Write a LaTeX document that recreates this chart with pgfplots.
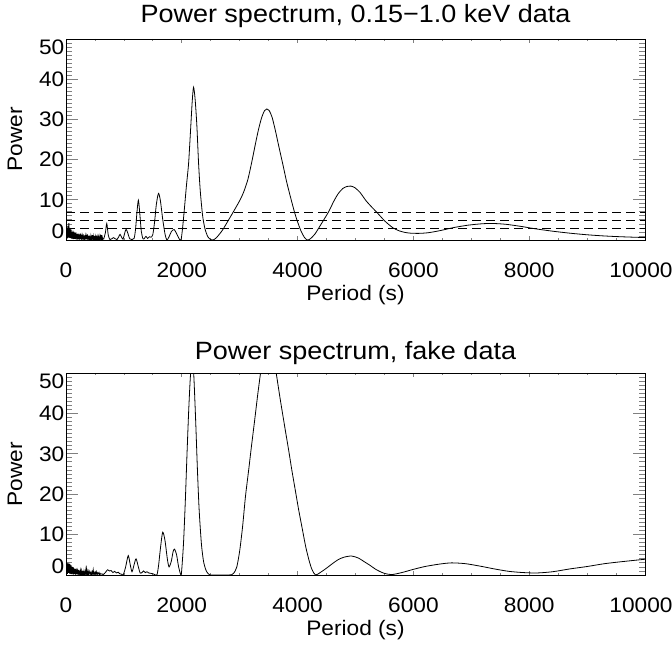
\documentclass[border=0pt]{standalone}
\usepackage{fontspec}
\setmainfont{Liberation Sans}[FakeStretch=1.08]
\usepackage{pgfplots}
\pgfplotsset{compat=1.18}
\pgfplotsset{
  idlaxis/.style={
    scale only axis, width=579pt,
    xmin=0, xmax=10000, ymin=0, ymax=50,
    axis line style={line width=0.9pt},
    tick align=inside,
    xtick={0,2000,4000,6000,8000,10000},
    xticklabels={0,2000,4000,6000,8000,\hbox{\kern-8pt 10000}},
    scaled x ticks=false,
    minor x tick num=3,
    ytick={0,10,20,30,40,50},
    yticklabels={\smash{\raisebox{1.5pt}{0}},10,20,30,40,\smash{\raisebox{-15.5pt}{50}}},
    minor y tick num=9,
    xtick style={line width=0.8pt,/pgfplots/major tick length=4pt,/pgfplots/minor tick length=2pt},
    ytick style={line width=0.8pt,/pgfplots/major tick length=11.6pt,/pgfplots/minor tick length=5.8pt},
    xticklabel style={font=\fontsize{21pt}{25pt}\selectfont, anchor=center, yshift=-30pt},
    yticklabel style={font=\fontsize{21pt}{25pt}\selectfont, anchor=east, inner sep=1.5pt},
    xlabel={Period (s)},
    ylabel={Power},
    xlabel style={font=\fontsize{21pt}{25pt}\selectfont, at={(axis description cs:0.5,0)}, anchor=center, yshift=-55pt},
    ylabel style={font=\fontsize{21pt}{25pt}\selectfont, at={(axis description cs:-0.088,0.5)}, anchor=center},
    title style={font=\fontsize{25pt}{30pt}\selectfont, at={(axis description cs:0.5,1)}, anchor=base, yshift=10pt},
  }
}
\begin{document}
\begin{tikzpicture}
\path[use as bounding box] (0pt,0pt) rectangle (672pt,648pt);
\begin{axis}[idlaxis, height=201pt, at={(66pt,408pt)}, anchor=south west,
  title={Power spectrum, 0.15−1.0 keV data}]
\addplot[black, line width=0.8pt] coordinates {
(5,1.8)(10,3.1)(15,0.9)(20,2.6)(25,0.4)(30,3.5)(35,1.2)(40,2.9)(45,0.6)(50,4.2)(55,1.0)(60,2.7)(65,0.5)(70,3.0)(75,1.3)(80,2.2)(85,0.4)(90,2.6)(95,0.8)(100,2.0)(105,0.3)(110,1.9)(115,0.7)(120,2.3)(125,0.2)(130,1.6)(135,0.9)(140,2.0)(145,0.3)(150,1.4)(155,0.6)(160,1.7)(165,0.2)(170,1.9)(175,0.5)(180,1.2)(185,0.1)(190,1.5)(195,0.7)(200,1.3)(205,0.2)(210,1.6)(215,0.4)(220,1.1)(225,0.1)(230,1.4)(235,0.6)(240,1.0)(245,0.2)(250,1.5)(255,0.3)(260,0.9)(265,0.1)(270,1.2)(275,0.5)(280,1.0)(285,0.2)(290,1.3)(295,0.4)(300,0.8)(305,0.1)(310,1.1)(315,0.5)(320,0.7)(325,0.2)(330,1.2)(335,0.3)(340,0.9)(345,0.1)(350,1.0)(355,0.6)(360,0.8)(365,0.2)(370,1.4)(375,0.4)(380,0.7)(385,0.1)(390,1.0)(395,0.3)(400,0.6)(405,0.2)(410,1.1)(415,0.4)(420,0.5)(425,0.1)(430,0.9)(435,0.3)(440,0.6)(445,0.2)(450,1.2)(455,0.1)(460,0.7)(465,0.4)(470,0.9)(475,0.1)(480,0.6)(485,0.3)(490,1.0)(495,0.2)(500,0.5)(505,0.1)(510,0.8)(515,0.3)(520,0.6)(525,0.1)(530,1.1)(535,0.2)(540,0.5)(545,0.3)(550,0.8)(555,0.1)(560,0.6)(565,0.4)(570,0.9)(575,0.1)(580,0.5)(585,0.3)(590,0.7)(595,0.1)(600,1.3)(605,0.2)(610,0.6)(615,0.3)(620,1.2)(625,0.1)(630,0.5)(635,0.2)(640,0.4)(650,0.2)
};
\addplot[black, line width=0.8pt, smooth, tension=0.45] coordinates {
(650,0.2)(680,1.8)(704,4.1)(730,1.2)(760,0.1)(790,0.3)(820,0.6)(850,0.3)(880,0.1)(910,0.8)(934,1.4)(960,0.7)(985,0.2)(1010,1.5)(1038,2.7)(1070,1.6)(1100,0.3)(1140,0.1)(1176,0.4)(1200,2.5)(1225,6.8)(1250,9.9)(1275,6.5)(1300,2.2)(1330,0.3)(1355,0.4)(1380,0.9)(1410,0.4)(1440,0.8)(1470,0.7)(1500,1.4)(1530,4.5)(1560,8.8)(1597,11.6)(1630,9.8)(1670,5.2)(1710,1.5)(1742,0.0)(1780,0.8)(1820,2.1)(1868,2.6)(1910,1.6)(1950,0.4)(1985,0.0)(2010,2.5)(2040,7.0)(2080,13.5)(2117,19.0)(2150,27.0)(2180,34.5)(2203,38.0)(2230,35.0)(2260,28.5)(2290,19.0)(2320,12.0)(2360,6.0)(2400,2.8)(2450,0.8)(2500,0.1)(2540,0.0)(2600,0.6)(2700,2.4)(2800,4.8)(2890,7.0)(3000,9.8)(3065,11.8)(3140,15.0)(3210,19.5)(3270,23.8)(3325,27.5)(3380,30.5)(3430,32.2)(3470,32.6)(3510,32.2)(3560,30.5)(3615,27.3)(3680,23.0)(3750,18.5)(3810,14.5)(3875,10.8)(3945,7.0)(4000,4.5)(4060,2.2)(4120,0.6)(4170,0.0)(4220,0.3)(4300,1.5)(4400,3.8)(4535,7.0)(4620,9.5)(4700,11.5)(4780,12.8)(4850,13.3)(4920,13.4)(4990,13.0)(5080,11.8)(5180,9.8)(5280,8.2)(5360,7.0)(5430,5.9)(5500,4.8)(5570,3.9)(5650,3.0)(5750,2.3)(5850,1.9)(5950,1.7)(6090,1.65)(6250,1.8)(6450,2.3)(6700,3.1)(6950,3.7)(7200,4.05)(7390,4.1)(7600,3.9)(7850,3.4)(8100,2.8)(8400,2.2)(8700,1.7)(9000,1.3)(9300,1.0)(9600,0.8)(10000,0.6)
};
\addplot[black, line width=0.8pt, dash pattern=on 9pt off 5pt] coordinates {(0,6.9)(10000,6.9)};
\addplot[black, line width=0.8pt, dash pattern=on 9pt off 5pt] coordinates {(0,4.8)(10000,4.8)};
\addplot[black, line width=0.8pt, dash pattern=on 9pt off 5pt] coordinates {(0,3.0)(10000,3.0)};
\end{axis}
\begin{axis}[idlaxis, height=202pt, at={(66pt,73pt)}, anchor=south west,
  title={Power spectrum, fake data}, title style={yshift=-2pt}]
\addplot[black, line width=0.8pt] coordinates {
(5,1.5)(10,2.7)(15,0.6)(20,3.0)(25,0.3)(30,2.8)(35,1.1)(40,2.4)(45,0.5)(50,2.9)(55,0.8)(60,2.5)(65,0.3)(70,2.7)(75,1.0)(80,2.1)(85,0.2)(90,2.4)(95,0.7)(100,1.8)(105,0.2)(110,2.0)(115,0.6)(120,1.7)(125,0.1)(130,1.9)(135,0.5)(140,1.3)(145,0.2)(150,1.6)(155,0.4)(160,1.2)(165,0.1)(170,1.5)(175,0.6)(180,1.0)(185,0.2)(190,1.3)(195,0.3)(200,0.9)(205,0.1)(210,1.2)(215,0.5)(220,0.8)(225,0.1)(230,1.1)(235,0.3)(240,0.7)(245,0.2)(250,1.0)(255,0.4)(260,0.6)(265,0.1)(270,0.9)(275,0.3)(280,0.6)(285,0.1)(290,1.0)(295,0.2)(300,0.5)(305,0.1)(310,0.8)(315,0.3)(320,0.5)(325,0.1)(330,0.7)(335,0.2)(340,0.6)(345,1.2)(350,2.3)(355,0.4)(360,0.6)(365,0.1)(370,0.8)(375,0.3)(380,0.5)(385,0.1)(390,0.7)(395,0.2)(400,0.4)(410,0.9)(420,0.2)(430,0.6)(440,0.1)(450,0.8)(460,0.3)(470,1.3)(480,0.2)(490,0.6)(500,0.1)(510,0.7)(520,0.3)(530,0.8)(540,0.1)(550,0.5)(560,0.3)(570,0.6)(580,0.1)(590,0.4)(600,0.2)(620,0.3)(640,0.1)(660,0.3)
};
\addplot[black, line width=0.8pt, smooth, tension=0.45] coordinates {
(660,0.3)(690,0.8)(720,1.3)(750,1.0)(780,1.1)(810,0.6)(840,0.9)(870,0.5)(900,0.7)(930,0.3)(960,0.2)(990,0.1)(1030,2.0)(1075,4.8)(1110,2.5)(1140,0.8)(1175,2.5)(1210,4.0)(1250,2.0)(1280,0.5)(1310,0.6)(1340,1.0)(1370,0.6)(1400,0.8)(1430,0.5)(1470,0.4)(1520,0.2)(1570,0.0)(1600,2.5)(1630,6.5)(1670,10.6)(1710,8.5)(1750,4.0)(1780,2.0)(1820,3.5)(1850,5.8)(1875,6.4)(1910,5.0)(1945,2.0)(1985,0.0)(2000,1.5)(2030,8)(2060,18)(2090,30)(2120,41)(2150,49.5)(2178,52.5)(2205,50)(2240,38)(2270,26)(2300,16)(2340,7.5)(2380,3)(2430,0.8)(2490,0)(2600,0)(2700,0)(2800,0)(2865,0.1)(2900,0.5)(2950,2)(3000,6)(3050,12)(3100,19.5)(3155,26)(3200,31.5)(3260,38.5)(3310,44.5)(3360,50)(3420,56)(3495,60)(3560,56)(3630,50)(3700,43.5)(3780,36.5)(3850,30.5)(3900,26)(3960,21)(4020,16)(4080,11.5)(4140,7)(4200,3.5)(4250,1.3)(4310,0)(4400,0.7)(4500,1.7)(4600,2.8)(4700,3.8)(4800,4.4)(4930,4.7)(5050,4.2)(5150,3.3)(5250,2.4)(5350,1.4)(5480,0.5)(5620,0.1)(5800,0.6)(6000,1.4)(6200,2.1)(6450,2.7)(6660,3.0)(6900,2.8)(7150,2.2)(7400,1.5)(7650,0.9)(7900,0.6)(8130,0.5)(8400,0.8)(8700,1.5)(9000,2.1)(9300,2.8)(9600,3.3)(10000,3.9)
};
\end{axis}
\end{tikzpicture}
\end{document}
